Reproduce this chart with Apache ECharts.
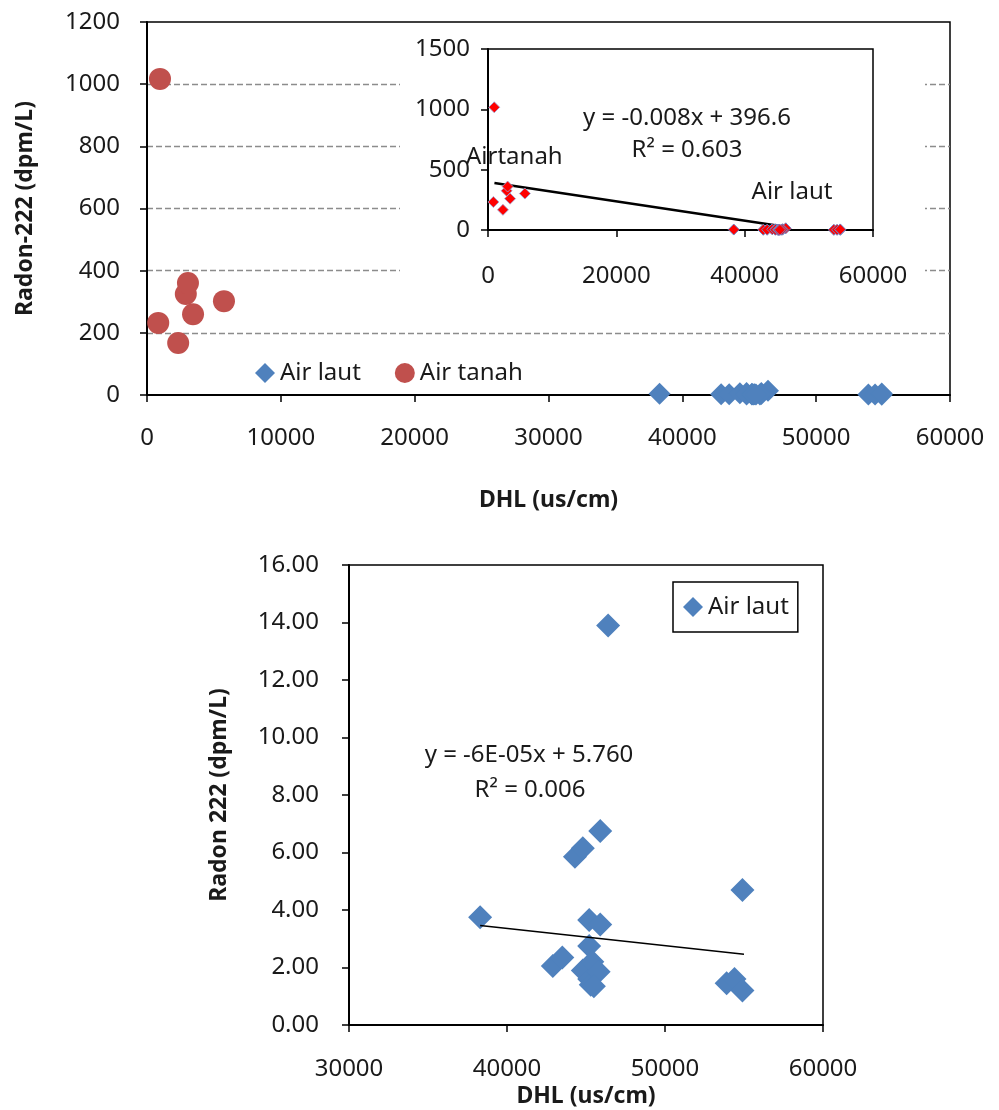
<!DOCTYPE html>
<html>
<head>
<meta charset="utf-8">
<script src="https://cdn.jsdelivr.net/npm/echarts@6/dist/echarts.min.js"></script>
<style>
  html, body { margin: 0; padding: 0; background: #fff; }
  #chart { width: 999px; height: 1110px; }
</style>
</head>
<body>
<div id="chart"></div>
<script>
// values
const tanahX = [970, 840, 2330, 2900, 3060, 3440, 5750]
const tanahY = [1017, 232, 167, 325, 360, 260, 302]

const lautX = [38300, 42900, 43500, 44300, 44800, 45900, 46400, 45200, 45900, 45200,
  44800, 45200, 45400, 45300, 45800, 45500, 53900, 54400, 54900, 54900]
const lautY = [3.75, 2.05, 2.35, 5.85, 6.15, 6.75, 13.9, 3.65, 3.5, 2.75,
  1.9, 1.6, 2.2, 1.4, 1.85, 1.35, 1.45, 1.6, 1.2, 4.7]

// axis ticks
const topXTicks = [0, 10000, 20000, 30000, 40000, 50000, 60000]
const topYTicks = [0, 200, 400, 600, 800, 1000, 1200]
const insetXTicks = [0, 20000, 40000, 60000]
const insetYTicks = [0, 500, 1000, 1500]
const botXTicks = [30000, 40000, 50000, 60000]
const botYTicks = [0, 2, 4, 6, 8, 10, 12, 14, 16]

// excel trend lines (coefficients from the printed equations)
const trendInset = { slope: -0.008, intercept: 396.6, from: 1000, to: 45000 }
const trendBottom = { slope: -0.00006, intercept: 5.760, from: 38300, to: 55000 }

const font = 'Noto Sans'
const ink = '#1a1a1a'
const blue = '#4F81BD'
const red = '#C0504D'

function zip(xs, ys) {
  return xs.map((x, i) => [x, ys[i]])
}

function trendData(t) {
  return [t.from, t.to].map(x => [x, t.intercept + t.slope * x])
}

function range(ticks) {
  return { min: ticks[0], max: ticks[ticks.length - 1], interval: ticks[1] - ticks[0] }
}

function label(margin, formatter) {
  return { fontFamily: font, fontSize: 24, color: ink, margin: margin, formatter: formatter || (v => String(v)) }
}

function axis(gridIndex, ticks, extra) {
  return Object.assign({
    type: 'value',
    gridIndex: gridIndex,
    ...range(ticks),
    axisLine: { show: true, onZero: false, lineStyle: { color: '#000', width: 2 } },
    axisTick: { show: true, length: 7, lineStyle: { color: '#000', width: 1.5 } },
    axisLabel: label(26),
    splitLine: { show: false },
    nameLocation: 'middle',
    nameTextStyle: { fontFamily: font, fontSize: 23, fontWeight: 'bold', color: ink }
  }, extra)
}

let chart = echarts.init(document.getElementById('chart'), null, { renderer: 'canvas' })

let option = {
  animation: false,
  backgroundColor: '#fff',
  grid: [
    { left: 147, top: 22, width: 803, height: 373, show: true, borderColor: '#000', borderWidth: 1.5 },
    { left: 488, top: 49, width: 385, height: 181, show: true, borderColor: '#000', borderWidth: 1.5, z: 2 },
    { left: 349, top: 565, width: 474, height: 460, show: true, borderColor: '#000', borderWidth: 1.5 }
  ],
  xAxis: [
    axis(0, topXTicks, { name: 'DHL (us/cm)', nameGap: 94, axisLabel: label(31) }),
    axis(1, insetXTicks, { z: 3, axisLabel: label(34) }),
    axis(2, botXTicks, { name: 'DHL (us/cm)', nameGap: 60, axisLabel: label(32) })
  ],
  yAxis: [
    axis(0, topYTicks, {
      name: 'Radon-222 (dpm/L)', nameGap: 110,
      axisLabel: label(27),
      splitLine: {
        show: true, showMinLine: false, showMaxLine: false,
        lineStyle: { type: [6, 3], color: '#8c8c8c', width: 1.3 }
      }
    }),
    axis(1, insetYTicks, { z: 3, axisLabel: label(18) }),
    axis(2, botYTicks, {
      name: 'Radon 222 (dpm/L)', nameGap: 118,
      axisLabel: label(30, v => v.toFixed(2))
    })
  ],
  legend: [
    {
      data: ['Air laut', 'Air tanah'],
      left: 250, top: 356,
      itemWidth: 20, itemHeight: 20, itemGap: 34,
      textStyle: { fontFamily: font, fontSize: 24, color: ink }
    },
    {
      data: ['Air laut'],
      left: 673, top: 582,
      itemWidth: 20, itemHeight: 20,
      padding: [13, 9, 13, 10],
      borderColor: '#000', borderWidth: 1.5,
      textStyle: { fontFamily: font, fontSize: 24, color: ink }
    }
  ],
  graphic: [
    // white chart area of the inset, hides the main gridlines behind it
    { type: 'rect', silent: true, z: 1, shape: { x: 400, y: 24, width: 525, height: 268 }, style: { fill: '#fff' } },
    { type: 'text', z: 10, x: 687, y: 118, style: { text: 'y = -0.008x + 396.6', font: '24px "Noto Sans"', fill: ink, align: 'center', verticalAlign: 'middle' } },
    { type: 'text', z: 10, x: 687, y: 150, style: { text: 'R² = 0.603', font: '24px "Noto Sans"', fill: ink, align: 'center', verticalAlign: 'middle' } },
    { type: 'text', z: 10, x: 466, y: 157, style: { text: 'Airtanah', font: '24px "Noto Sans"', fill: ink, align: 'left', verticalAlign: 'middle' } },
    { type: 'text', z: 10, x: 792, y: 192, style: { text: 'Air laut', font: '24px "Noto Sans"', fill: ink, align: 'center', verticalAlign: 'middle' } },
    { type: 'text', z: 10, x: 529, y: 755, style: { text: 'y = -6E-05x + 5.760', font: '24px "Noto Sans"', fill: ink, align: 'center', verticalAlign: 'middle' } },
    { type: 'text', z: 10, x: 530, y: 790, style: { text: 'R² = 0.006', font: '24px "Noto Sans"', fill: ink, align: 'center', verticalAlign: 'middle' } }
  ],
  series: [
    {
      name: 'Air laut', type: 'scatter', xAxisIndex: 0, yAxisIndex: 0,
      symbol: 'diamond', symbolSize: 22,
      itemStyle: { color: blue, opacity: 1 },
      data: zip(lautX, lautY)
    },
    {
      name: 'Air tanah', type: 'scatter', xAxisIndex: 0, yAxisIndex: 0,
      symbol: 'circle', symbolSize: 22,
      itemStyle: { color: red, opacity: 1 },
      data: zip(tanahX, tanahY)
    },
    {
      name: 'inset trend', type: 'line', xAxisIndex: 1, yAxisIndex: 1,
      symbol: 'none', z: 4,
      lineStyle: { color: '#000', width: 2.5 },
      data: trendData(trendInset)
    },
    {
      name: 'inset laut', type: 'scatter', xAxisIndex: 1, yAxisIndex: 1,
      symbol: 'diamond', symbolSize: 11, z: 5,
      itemStyle: { color: '#f00', borderColor: '#6f86c6', borderWidth: 1, opacity: 1 },
      data: zip(lautX, lautY)
    },
    {
      name: 'inset tanah', type: 'scatter', xAxisIndex: 1, yAxisIndex: 1,
      symbol: 'diamond', symbolSize: 11, z: 5,
      itemStyle: { color: '#f00', borderColor: '#9aa6d8', borderWidth: 0.8, opacity: 1 },
      data: zip(tanahX, tanahY)
    },
    {
      name: 'Air laut', type: 'scatter', xAxisIndex: 2, yAxisIndex: 2,
      symbol: 'diamond', symbolSize: 24,
      itemStyle: { color: blue, opacity: 1 },
      data: zip(lautX, lautY)
    },
    {
      name: 'bottom trend', type: 'line', xAxisIndex: 2, yAxisIndex: 2,
      symbol: 'none', z: 4,
      lineStyle: { color: '#000', width: 1.5 },
      data: trendData(trendBottom)
    }
  ]
}

chart.setOption(option)
</script>
</body>
</html>
